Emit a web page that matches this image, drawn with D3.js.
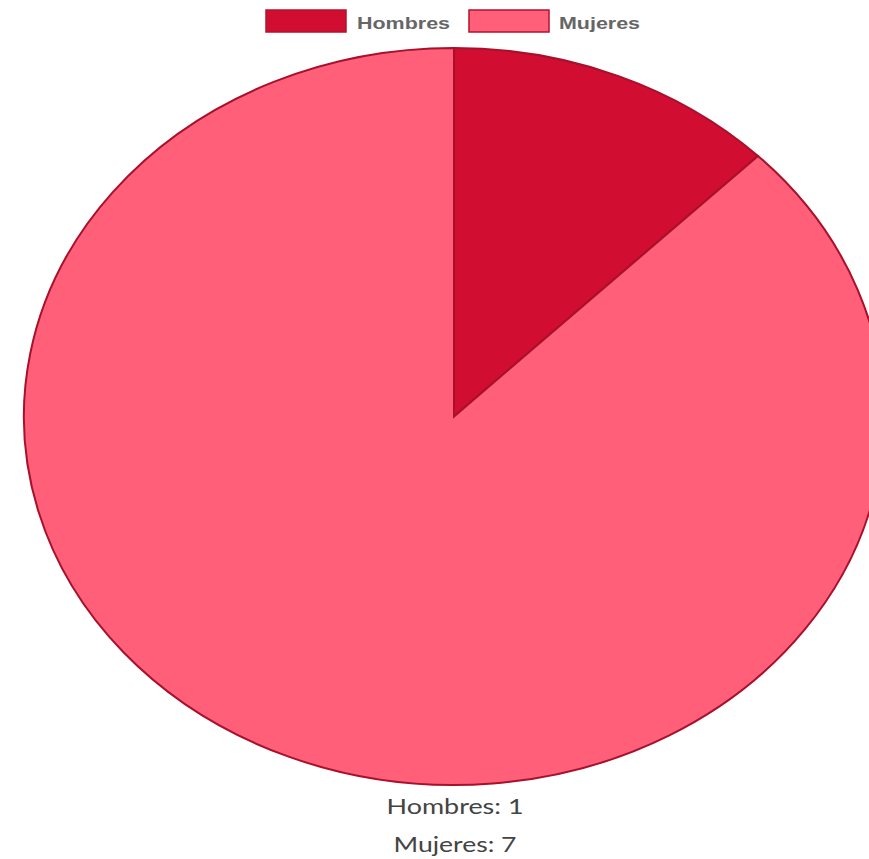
<!DOCTYPE html>
<html>
<head>
<meta charset="utf-8">
<script src="https://cdn.jsdelivr.net/npm/d3@7"></script>
<style>
  body{margin:0;background:#fff;}
</style>
</head>
<body>
<div class="chart"></div>
<script>
var labels = ["Hombres","Mujeres"];
var values = [1,7];
var colors = ["#d10e31","#ff5f78"];

var W = 869, H = 859;
var cx = 454, cy = 416.5, rx = 430, ry = 368.5;

var svg = d3.select(".chart").append("svg")
            .attr("width",W)
            .attr("height",H);

// pie drawn on unit circle then stretched to ellipse
var pie = d3.pie().sort(null).value(function(d){ return d; });
var arc = d3.arc().innerRadius(0).outerRadius(1);

var g = svg.append("g")
           .attr("transform","translate("+cx+","+cy+") scale("+rx+","+ry+")");

g.selectAll("path")
  .data(pie(values))
  .enter().append("path")
  .attr("d",arc)
  .style("fill",function(d,i){ return colors[i]; })
  .style("stroke","#a8102c")
  .style("stroke-width","2px")
  .attr("vector-effect","non-scaling-stroke");

// legend
var legendBoxes = [266,469], legendText = [357,559], legendWidths = [93,81];
var legend = svg.append("g");
labels.forEach(function(l,i){
  legend.append("rect")
    .attr("x",legendBoxes[i]).attr("y",10)
    .attr("width",80).attr("height",22)
    .style("fill",colors[i])
    .style("stroke","#b5122f")
    .style("stroke-width","1.5px");
  legend.append("text")
    .attr("x",legendText[i]).attr("y",29)
    .attr("textLength",legendWidths[i])
    .attr("lengthAdjust","spacingAndGlyphs")
    .style("font-family","'Liberation Sans', Arial, sans-serif")
    .style("font-weight","bold")
    .style("font-size","17px")
    .style("fill","#666")
    .text(l);
});

// totals below the pie
var lineY = [814,852], lineW = [137,123];
labels.forEach(function(l,i){
  svg.append("text")
    .attr("x",455).attr("y",lineY[i])
    .attr("text-anchor","middle")
    .attr("textLength",lineW[i])
    .attr("lengthAdjust","spacingAndGlyphs")
    .style("font-family","Lato, 'Noto Sans', sans-serif")
    .style("font-size","22px")
    .style("fill","#444")
    .text(l+": "+values[i]);
});
</script>
</body>
</html>
